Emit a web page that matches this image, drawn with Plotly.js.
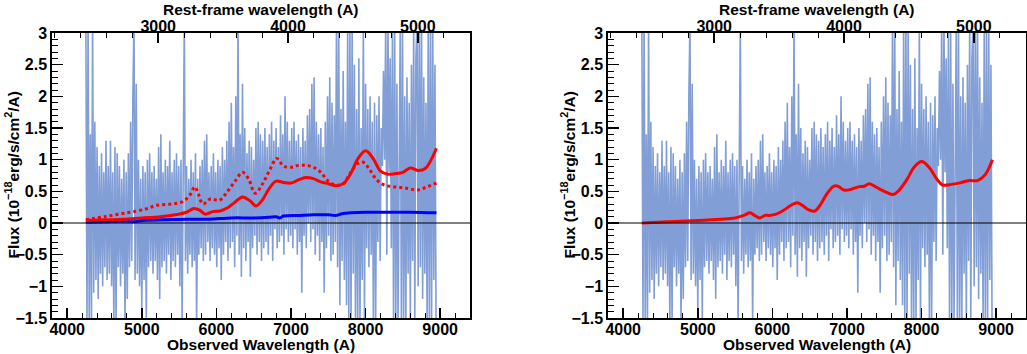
<!DOCTYPE html>
<html>
<head>
<meta charset="utf-8">
<script src="https://cdn.plot.ly/plotly-3.0.1.min.js"></script>
<style>
  html, body { margin: 0; padding: 0; background: #fff; }
  #chart { width: 1027px; height: 354px; }
</style>
</head>
<body>
<div id="chart"></div>
<script>
// redshift factor between observed and rest-frame wavelength (1+z)
const onePlusZ = 1.74;

// observed spectrum: linear grid, 15 A per pixel, starting at 4250 A
const specStart = 4250;
const specStep = 15;
const specFlux = [
  3.2,-1.6,3.3,-1.6,1.4,-1.6,3.2,-1.1,1.6,-0.9,1.2,-1.2,0.9,-0.8,1.1,-1.0,0.8,-0.7,1.3,-0.9,
  0.9,-0.8,1.3,-1.0,0.8,-1.6,1.2,-1.6,1.1,-0.7,0.9,-1.0,0.7,-0.8,1.0,-1.6,0.8,-1.2,1.1,-0.7,
  1.6,-0.6,2.0,3.2,-0.9,2.2,-0.8,1.0,-1.0,0.7,-1.4,0.9,-0.9,0.8,-1.5,1.0,-0.7,1.1,-0.6,0.8,
  -0.8,0.9,-0.6,0.7,-0.9,1.2,-1.2,1.4,-0.7,0.8,-0.6,1.0,-0.8,0.9,-0.5,1.3,-0.9,0.8,-0.6,1.0,
  -0.7,1.1,-0.5,0.9,-1.0,1.0,-1.6,0.8,3.2,-0.6,0.9,-0.8,0.7,-0.5,1.0,-0.7,0.8,-0.6,1.1,-1.6,
  0.7,-0.5,0.9,-0.4,1.0,-0.6,1.3,-0.5,1.4,-0.3,0.8,-0.6,0.9,-0.4,1.1,-0.5,0.8,-0.7,1.0,-0.4,
  0.9,-0.9,1.2,-0.5,1.0,-0.3,1.3,-0.6,1.6,-0.4,1.9,-0.3,1.2,-0.7,2.0,-0.2,3.2,-0.5,1.4,-0.85,
  2.2,-0.4,1.5,-0.6,1.1,-0.3,1.3,-0.85,1.2,-0.4,1.0,-0.2,1.5,-0.5,1.6,-0.3,1.4,-0.6,1.3,-0.4,
  1.5,-0.3,1.2,-0.5,1.4,-0.2,1.6,-0.6,1.3,-0.1,1.5,-0.4,1.2,-0.3,1.7,-0.2,1.4,-0.5,2.0,-0.1,
  1.6,-0.3,1.3,-0.2,1.5,-0.4,1.6,-0.1,1.3,-0.5,1.4,-0.3,1.2,-1.1,1.5,-0.2,1.3,-0.4,1.7,0.0,
  1.8,-0.3,2.2,-0.1,2.3,-0.5,1.6,-0.2,1.4,-0.6,1.5,-0.3,1.2,-1.1,1.6,-0.4,2.0,-0.2,2.3,-0.6,
  1.9,-0.5,1.7,-0.3,3.2,-0.7,3.2,-1.3,1.8,-0.6,2.4,-0.9,1.6,-1.3,3.2,-1.6,3.2,-1.6,3.2,-0.8,
  2.5,-1.6,1.8,-1.6,2.6,-1.6,1.5,-0.9,3.2,-1.6,2.2,-0.4,1.8,-0.7,2.0,-0.5,1.6,-1.6,1.9,-1.6,
  1.7,-0.3,2.0,-0.6,1.5,0.9,2.4,1.0,3.2,-0.5,3.2,0.8,2.6,-0.4,3.0,-1.6,3.2,-1.6,2.2,-1.6,
  1.8,3.2,-1.6,3.2,-1.6,2.0,-1.6,2.3,-0.8,1.9,-1.6,2.5,-0.6,3.2,-1.6,2.6,3.2,-1.0,3.2,-0.7,
  3.2,-1.2,2.3,-0.8,1.9,-1.6,3.2,-1.6,3.2,-1.6,3.2,-0.9,2.5,-1.6
];
const specLam = specFlux.map((_, i) => specStart + i * specStep);

// left panel: model 1 (solid red)
const fitALam = [4250,4500,4750,5000,5250,5450,5600,5700,5780,5850,5950,6050,6150,6250,6350,6450,6530,6620,6700,6800,
  6900,7000,7100,7200,7300,7400,7500,7600,7700,7800,7900,8000,8100,8200,8300,8400,8500,8600,8700,8800,8950];
const fitAFlux = [0.04,0.05,0.06,0.08,0.10,0.13,0.17,0.23,0.20,0.14,0.18,0.19,0.24,0.33,0.41,0.35,0.27,0.37,0.53,0.66,
  0.64,0.63,0.68,0.72,0.70,0.65,0.62,0.59,0.62,0.78,1.02,1.14,1.02,0.82,0.77,0.78,0.80,0.87,0.83,0.86,1.18];

// left panel: model 2 (dotted red)
const fitBLam = [4250,4500,4800,5050,5200,5400,5550,5650,5710,5760,5820,5920,6040,6150,6250,6350,6430,6520,6620,6720,
  6810,6900,7000,7100,7200,7300,7400,7500,7600,7700,7800,7900,7970,8050,8150,8250,8400,8550,8700,8800,8950];
const fitBFlux = [0.05,0.10,0.16,0.22,0.28,0.30,0.34,0.45,0.57,0.45,0.30,0.38,0.36,0.50,0.66,0.80,0.70,0.47,0.62,0.85,
  1.02,0.90,0.88,0.91,0.91,0.88,0.80,0.66,0.60,0.62,0.80,0.94,0.96,0.85,0.68,0.60,0.57,0.55,0.52,0.56,0.63];

// left panel: blue component
const compLam = [4250,4500,4800,4900,5000,5300,5600,5900,6200,6500,6700,6800,6850,6900,7100,7300,7500,7600,7700,7800,8000,8300,8600,8950];
const compFlux = [0.01,0.02,0.03,0.02,0.04,0.05,0.06,0.06,0.08,0.08,0.09,0.10,0.08,0.11,0.12,0.13,0.13,0.12,0.15,0.16,0.17,0.17,0.17,0.16];

// right panel: model (solid red)
const fitCLam = [4250,4600,5000,5300,5500,5620,5700,5760,5830,5900,5960,6050,6150,6250,6330,6400,6480,6570,6650,6730,
  6820,6880,6960,7050,7150,7230,7300,7400,7500,7620,7700,7800,7900,8000,8100,8200,8280,8400,8500,8640,8750,8850,8950];
const fitCFlux = [0.00,0.02,0.04,0.06,0.08,0.12,0.16,0.12,0.08,0.12,0.12,0.14,0.20,0.28,0.32,0.28,0.21,0.19,0.30,0.46,
  0.58,0.58,0.52,0.53,0.57,0.58,0.62,0.56,0.50,0.45,0.52,0.68,0.88,0.97,0.88,0.70,0.60,0.61,0.63,0.67,0.67,0.76,1.00];

const obsRange = [3800, 9400];
const restRange = obsRange.map(v => v / onePlusZ);

const specColor = 'rgb(122,153,212)';
const W = 1027, H = 354;
const yDom = [1 - 318 / H, 1 - 33 / H];
const leftDom = [52.3 / W, 470 / W];
const rightDom = [608.3 / W, 1026 / W];

const tickFont = { family: 'Liberation Sans, Arial, sans-serif', size: 16, color: 'black', weight: 'bold' };

function xAxis(dom, anchor, top, overlay) {
  const ax = {
    domain: dom, anchor: anchor, range: top ? restRange : obsRange,
    side: top ? 'top' : 'bottom',
    showline: true, linecolor: 'black', linewidth: 2,
    ticks: 'inside', ticklen: 10, tickwidth: 1.5, tickcolor: 'black',
    tick0: 0, dtick: 1000,
    minor: { ticks: 'inside', ticklen: 5, tickwidth: 1, tickcolor: 'black', dtick: 200, showgrid: false },
    tickfont: tickFont, showgrid: false, zeroline: false, layer: 'above traces',
    ticklabelstandoff: top ? -7 : -4
  };
  if (overlay) ax.overlaying = overlay;
  return ax;
}

function yAxis(anchor) {
  return {
    domain: yDom, anchor: anchor, range: [-1.5, 3],
    showline: true, linecolor: 'black', linewidth: 2, mirror: true,
    ticks: 'inside', ticklen: 11, tickwidth: 1.5, tickcolor: 'black',
    tick0: 0, dtick: 0.5,
    minor: { ticks: 'inside', ticklen: 6, tickwidth: 1, tickcolor: 'black', dtick: 0.1, showgrid: false },
    tickfont: tickFont, showgrid: false, zeroline: false, layer: 'above traces'
  };
}

const specLine = { color: specColor, width: 1.6 };
const traces = [
  // left panel
  { x: specLam, y: specFlux, xaxis: 'x', yaxis: 'y', mode: 'lines', line: specLine, opacity: 0.95, hoverinfo: 'skip' },
  { x: compLam, y: compFlux, xaxis: 'x', yaxis: 'y', mode: 'lines', line: { color: '#0000ff', width: 3, shape: 'spline' } },
  { x: fitBLam, y: fitBFlux, xaxis: 'x', yaxis: 'y', mode: 'lines', line: { color: '#ff0000', width: 3, dash: 'dot', shape: 'spline' } },
  { x: fitALam, y: fitAFlux, xaxis: 'x', yaxis: 'y', mode: 'lines', line: { color: '#ff0000', width: 3, shape: 'spline' } },
  { x: [], y: [], xaxis: 'x2', yaxis: 'y', mode: 'lines' },
  // right panel
  { x: specLam, y: specFlux, xaxis: 'x3', yaxis: 'y2', mode: 'lines', line: specLine, opacity: 0.95, hoverinfo: 'skip' },
  { x: fitCLam, y: fitCFlux, xaxis: 'x3', yaxis: 'y2', mode: 'lines', line: { color: '#ff0000', width: 3, shape: 'spline' } },
  { x: [], y: [], xaxis: 'x4', yaxis: 'y2', mode: 'lines' }
];

const titleFont = { family: 'Liberation Sans, Arial, sans-serif', size: 15.5, color: 'black', weight: 'bold' };
function titles(dom) {
  const cx = (dom[0] + dom[1]) / 2;
  const px = dom[0] - 40.3 / W;
  return [
    { text: 'Rest-frame wavelength (A)', xref: 'paper', yref: 'paper', x: cx, y: 1,
      xanchor: 'center', yanchor: 'top', borderpad: 0, showarrow: false, font: titleFont },
    { text: 'Observed Wavelength (A)', xref: 'paper', yref: 'paper', x: cx, y: 0,
      xanchor: 'center', yanchor: 'bottom', borderpad: 0, showarrow: false, font: titleFont },
    { text: 'Flux (10<sup>−18</sup>erg/s/cm<sup>2</sup>/A)', xref: 'paper', yref: 'paper', x: px, y: 1 - 175.5 / H,
      xanchor: 'center', yanchor: 'middle', textangle: -90, showarrow: false, font: titleFont }
  ];
}

const zeroLine = (xr, yr) => ({ type: 'line', xref: xr + ' domain', yref: yr, x0: 0, x1: 1, y0: 0, y1: 0,
  line: { color: 'black', width: 1 }, layer: 'above' });

const layout = {
  width: W, height: H,
  margin: { l: 0, r: 0, t: 0, b: 0 },
  paper_bgcolor: 'white', plot_bgcolor: 'white',
  showlegend: false,
  font: { family: 'Liberation Sans, Arial, sans-serif', color: 'black' },
  xaxis: xAxis(leftDom, 'y', false),
  xaxis2: xAxis(leftDom, 'y', true, 'x'),
  yaxis: yAxis('x'),
  xaxis3: xAxis(rightDom, 'y2', false),
  xaxis4: xAxis(rightDom, 'y2', true, 'x3'),
  yaxis2: yAxis('x3'),
  shapes: [zeroLine('x', 'y'), zeroLine('x3', 'y2')],
  annotations: titles(leftDom).concat(titles(rightDom))
};

Plotly.newPlot('chart', traces, layout, { displayModeBar: false, staticPlot: true });
</script>
</body>
</html>
